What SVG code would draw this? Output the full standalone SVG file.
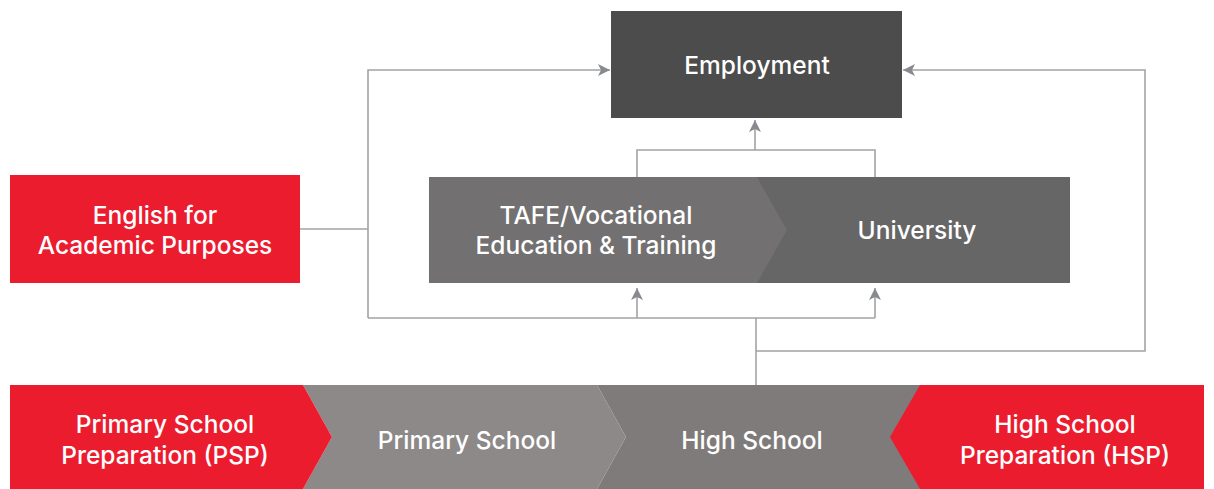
<svg xmlns="http://www.w3.org/2000/svg" width="1214" height="489" viewBox="0 0 1214 489">
<defs>
<style>
.t{font-family:Inter,"Liberation Sans",sans-serif;font-size:24.5px;font-weight:500;fill:#ffffff;text-anchor:middle}
.c{fill:none;stroke:#a3a3a3;stroke-width:1.6}
.red{fill:#ec1c2f}
</style>
<marker id="ah" viewBox="0 0 12 12" refX="12" refY="6" markerWidth="12" markerHeight="12" markerUnits="userSpaceOnUse" orient="auto">
<path d="M0,0 L12,6 L0,12 L3,6 Z" fill="#878a8e"/>
</marker>
</defs>
<rect width="1214" height="489" fill="#ffffff"/>
<g id="connectors">
<path class="c" d="M300,229 H368"/>
<path class="c" d="M368,318 V70 H610" marker-end="url(#ah)"/>
<path class="c" d="M368,318 H875"/>
<path class="c" d="M637,318 V288" marker-end="url(#ah)"/>
<path class="c" d="M875,318 V288" marker-end="url(#ah)"/>
<path class="c" d="M756,385 V318"/>
<path class="c" d="M756,351 H1145 V70 H903" marker-end="url(#ah)"/>
<path class="c" d="M637,177 V150 H875 V177"/>
<path class="c" d="M755,150 V120" marker-end="url(#ah)"/>
</g>
<g id="employment">
<rect x="611" y="11" width="291" height="107" fill="#4b4c4b"/>
<text class="t" x="757" y="74">Employment</text>
</g>
<g id="university">
<rect x="730" y="177" width="340" height="106" fill="#666666"/>
<text class="t" x="917" y="239">University</text>
</g>
<g id="tafe">
<polygon points="429,177 757,177 787,230 757,283 429,283" fill="#727071"/>
<text class="t" x="596" y="224">TAFE/Vocational</text>
<text class="t" x="596" y="254">Education &amp; Training</text>
</g>
<g id="eap">
<rect class="red" x="10" y="175" width="290" height="108"/>
<text class="t" x="155" y="224">English for</text>
<text class="t" x="155" y="254">Academic Purposes</text>
</g>
<g id="high-school">
<polygon points="597,385 925,385 925,489 597,489 626,437" fill="#7f7b7a"/>
<text class="t" x="752" y="449">High School</text>
</g>
<g id="primary-school">
<polygon points="303,385 597,385 626,437 597,489 303,489 332,437" fill="#8c8988"/>
<text class="t" x="467" y="449">Primary School</text>
</g>
<g id="psp">
<polygon class="red" points="10,385 303,385 332,437 303,489 10,489"/>
<text class="t" x="165" y="433">Primary School</text>
<text class="t" x="165" y="464">Preparation (PSP)</text>
</g>
<g id="hsp">
<polygon class="red" points="920,385 1204,385 1204,489 920,489 890,437"/>
<text class="t" x="1065" y="433">High School</text>
<text class="t" x="1065" y="464">Preparation (HSP)</text>
</g>
</svg>
